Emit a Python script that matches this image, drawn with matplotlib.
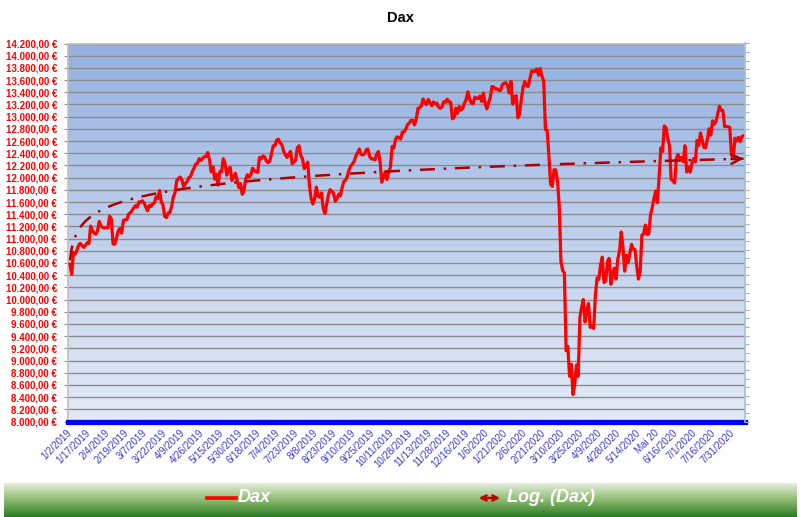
import numpy as np
import matplotlib
matplotlib.use("Agg")
import matplotlib.pyplot as plt
from matplotlib.colors import LinearSegmentedColormap
from matplotlib.ticker import FuncFormatter, MultipleLocator, FixedLocator
from matplotlib.lines import Line2D

# ---------------- data (DAX closing values) ----------------
dax_2019 = [
    10580, 10416, 10767, 10747, 10804, 10893, 10921, 10887, 10856, 10891, 10931,
    10919, 11205, 11136, 11090, 11071, 11130, 11281, 11210, 11181, 11173, 11180,
    11176, 11367, 11324, 10911, 10906, 11014, 11126, 11167, 11089, 11299, 11309,
    11309, 11401, 11423, 11457, 11505, 11540, 11515, 11602, 11593, 11620, 11587,
    11518, 11457, 11543, 11524, 11572, 11587, 11685, 11657, 11788, 11603, 11550,
    11364, 11346, 11419, 11428, 11526, 11681, 11754, 11954, 11988, 12009, 11963,
    11851, 11906, 11935, 11999, 12020, 12101, 12153, 12222, 12235, 12313, 12282,
    12315, 12344, 12345, 12412, 12286, 12093, 12180, 11974, 12059, 11877, 12100,
    12099, 12310, 12238, 12041, 12143, 12168, 11952, 12011, 12071, 11953, 11837,
    11902, 11727, 11792, 11971, 12047, 12009, 12045, 12155, 12116, 12096, 12086,
    12331, 12309, 12355, 12340, 12274, 12246, 12271, 12399, 12521, 12526, 12616,
    12630, 12568, 12543, 12436, 12373, 12332, 12387, 12430, 12227, 12260, 12289,
    12490, 12523, 12362, 12306, 12147, 12189, 12253, 11872, 11658, 11567, 11650,
    11845, 11694, 11679, 11750, 11493, 11412, 11563, 11715, 11802, 11777, 11747,
    11612, 11658, 11731, 11701, 11839, 11939, 11954, 12026, 12126, 12192, 12226,
    12268, 12360, 12410, 12469, 12381, 12372, 12390, 12457, 12468, 12342, 12308,
    12308, 12289, 12381, 12428, 12263, 11925, 12012, 12097, 11970, 12094, 12164,
    12512, 12486, 12630, 12670, 12654, 12634, 12748, 12754, 12799, 12872, 12895,
    12942, 12939, 12867, 12961, 13136, 13148, 13179, 13289, 13228, 13198, 13283,
    13230, 13180, 13242, 13207, 13221, 13158, 13137, 13163, 13246, 13236, 13287,
    13245, 13236, 12965, 12989, 13140, 13054, 13166, 13106, 13141, 13221, 13283,
    13407, 13287, 13222, 13212, 13319, 13300, 13300, 13337, 13249,
]
dax_2020 = [
    13386, 13219,
    13127, 13227, 13320, 13495, 13483, 13452, 13456, 13432, 13430, 13526, 13549,
    13556, 13515, 13388, 13577, 13205, 13324, 13345, 12982, 13045, 13282, 13479,
    13575, 13514, 13494, 13627, 13749, 13745, 13744, 13784, 13681, 13789, 13664,
    13579, 12790, 12775, 12367, 11890, 11857, 12128, 12127, 11945, 11542, 10625,
    10475, 10439, 9161, 9232, 8742, 8939, 8442, 8610, 8929, 8742, 9701,
    9874, 10000, 9633, 9816, 9936, 9544, 9571, 9525, 10075, 10356, 10333,
    10565, 10697, 10280, 10302, 10626, 10676, 10250, 10416, 10514, 10337, 10660,
    10796, 11108, 10862, 10467, 10730, 10607, 10759, 10905, 10825, 10820, 10542,
    10337, 10465, 11058, 11075, 11223, 11066, 11074, 11392, 11505, 11657, 11781,
    11587, 12021, 12487, 12431, 12848, 12820, 12642, 12530, 11970, 11949, 11911,
    12316, 12382, 12281, 12331, 12262, 12524, 12093, 12178, 12089, 12232, 12311,
    12260, 12609, 12528, 12733, 12616, 12494, 12489, 12633, 12800, 12697, 12931,
    12874, 12920, 13046, 13171, 13104, 13103, 12838, 12838, 12836, 12823, 12379,
    12313, 12647, 12600, 12660, 12592, 12674, 12687,
]
x_labels = [
    "1/2/2019", "1/17/2019", "2/4/2019", "2/19/2019", "3/7/2019", "3/22/2019",
    "4/9/2019", "4/26/2019", "5/15/2019", "5/30/2019", "6/18/2019", "7/4/2019",
    "7/23/2019", "8/8/2019", "8/23/2019", "9/10/2019", "9/25/2019", "10/11/2019",
    "10/28/2019", "11/13/2019", "11/28/2019", "12/16/2019", "1/6/2020", "1/21/2020",
    "2/6/2020", "2/21/2020", "3/10/2020", "3/25/2020", "4/9/2020", "4/28/2020",
    "5/14/2020", "Mai 20", "6/16/2020", "7/1/2020", "7/16/2020", "7/31/2020",
]
label_step = 11
y_min, y_max, y_step = 8000, 14200, 200
title = "Dax"
series_name = "Dax"
trend_name = "Log. (Dax)"

# ---------------- derived ----------------
dax = np.array(dax_2019 + dax_2020, dtype=float)
n = len(dax)
idx = np.arange(n)
# Excel-style logarithmic trend line (x = 1..n)
a, b = np.polyfit(np.log(idx + 1.0), dax, 1)
trend = a * np.log(idx + 1.0) + b

FONT = ["Liberation Sans", "DejaVu Sans"]
plt.rcParams["font.family"] = FONT

W, H = 800, 517
fig = plt.figure(figsize=(W / 100, H / 100), dpi=100)
fig.patch.set_facecolor("white")

L, R, T, B = 68, 745, 43.5, 421.5
ax = fig.add_axes([L / W, 1 - B / H, (R - L) / W, (B - T) / H])

# plot-area gradient
bg = LinearSegmentedColormap.from_list("bg", ["#E3EAF6", "#BFD0EC", "#93B1E2"])
grad = np.linspace(0, 1, 256).reshape(-1, 1)
ax.imshow(grad, cmap=bg, origin="lower", extent=[0, 1, 0, 1],
          transform=ax.transAxes, aspect="auto", zorder=0, interpolation="bicubic")

ax.set_xlim(-1.15, n - 1 + 0.85)
ax.set_ylim(y_min, y_max)
ax.set_axisbelow(True)
ax.yaxis.set_major_locator(MultipleLocator(y_step))
ax.yaxis.grid(True, color="#8C8C8C", lw=1.0, zorder=0.5)


def euro(v, pos):
    s = f"{v:,.2f}".replace(",", "X").replace(".", ",").replace("X", ".")
    return s + " €"


ax.yaxis.set_major_formatter(FuncFormatter(euro))
ax.tick_params(axis="y", direction="out", length=3, width=0.8, color="#8C8C8C",
               pad=5, labelsize=7, labelcolor="#FF0000")
for lab in ax.get_yticklabels():
    lab.set_fontweight("bold")

ax.xaxis.set_major_locator(FixedLocator(np.arange(len(x_labels)) * label_step))
ax.set_xticklabels(x_labels, rotation=45, ha="right", va="center",
                   rotation_mode="anchor", fontsize=7, color="#3A3ACC")
ax.tick_params(axis="x", length=0, pad=7)

for s in ("left", "top"):
    ax.spines[s].set_color("#BFBFBF")
    ax.spines[s].set_linewidth(1.2)
ax.spines["right"].set_visible(False)
ax.spines["bottom"].set_color("#0000F0")
ax.spines["bottom"].set_linewidth(3.8)
ax.spines["bottom"].set_capstyle("projecting")
ax.spines["bottom"].set_zorder(6)

# data line
ax.plot(idx, dax, color="#FF0000", lw=2.3, zorder=3, solid_joinstyle="round")
# trend line
ax.plot(idx, trend, color="#B00000", lw=1.8, dashes=(6, 3.5, 1, 3.5), zorder=4)
ax.annotate("", xy=(idx[-1], trend[-1]), xytext=(idx[-8], trend[-8]),
            arrowprops=dict(arrowstyle="->", color="#B00000", lw=1.8,
                            mutation_scale=17, shrinkA=0, shrinkB=0), zorder=4)

# secondary (right) axis with plain ticks
ax2 = ax.twinx()
ax2.set_ylim(0, 44)
ax2.yaxis.set_major_locator(MultipleLocator(1))
ax2.tick_params(axis="y", direction="out", length=3, width=0.8, color="#9BB0CC",
                labelright=False)
for s in ("left", "top", "bottom"):
    ax2.spines[s].set_visible(False)
ax2.spines["right"].set_color("#A8BDD8")
ax2.spines["right"].set_linewidth(1.2)

fig.text(400 / W, 1 - 18 / H, title, ha="center", va="center",
         fontsize=10.5, fontweight="bold", color="black")

# legend band
lax = fig.add_axes([4 / W, 0, 793 / W, 34 / H])
green = LinearSegmentedColormap.from_list("g", ["#2A7A25", "#8DBA6E", "#E6EFDF"])
lax.imshow(grad, cmap=green, origin="lower", extent=[0, 1, 0, 1],
           aspect="auto", interpolation="bicubic")
lax.set_axis_off()

ly = 1 - 498 / H
fig.add_artist(Line2D([207 / W, 236 / W], [ly, ly], color="#FF0000", lw=2.6))
fig.text(238 / W, ly, series_name, ha="left", va="center", fontsize=13,
         fontweight="bold", style="italic", color="white")
fig.add_artist(matplotlib.patches.FancyArrowPatch(
    (476 / W, ly), (503 / W, ly), transform=fig.transFigure,
    arrowstyle="<->", color="#C00000", lw=1.8, mutation_scale=9))
fig.text(507 / W, ly, trend_name, ha="left", va="center", fontsize=13,
         fontweight="bold", style="italic", color="white")

fig.savefig("out.png", dpi=100)
